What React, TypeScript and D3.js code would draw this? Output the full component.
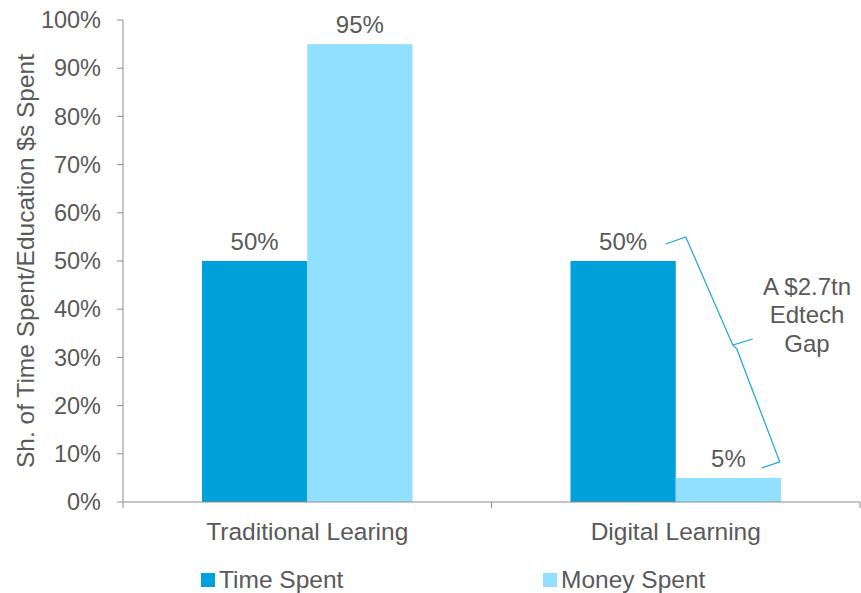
import React from 'react';
import * as d3 from 'd3';

const categories = ['Traditional Learing', 'Digital Learning'];
const seriesNames = ['Time Spent', 'Money Spent'];
const timeSpent = [0.5, 0.5];
const moneySpent = [0.95, 0.05];
const yTicks = [0, 0.1, 0.2, 0.3, 0.4, 0.5, 0.6, 0.7, 0.8, 0.9, 1.0];
const gapNote = ['A $2.7tn', 'Edtech', 'Gap'];

const colors = ['#00A0DA', '#91E0FF'];
const textColor = '#595959';
const axisColor = '#8C8C8C';
const font = '"Liberation Sans", Arial, sans-serif';

const App = () => {
  const width = 861;
  const height = 593;
  const margin = { top: 20, right: 1, bottom: 91, left: 123 };

  const x0 = d3
    .scaleBand<string>()
    .domain(categories)
    .range([margin.left, width - margin.right])
    .padding(0);

  const x1 = d3
    .scaleBand<string>()
    .domain(seriesNames)
    .range([0, x0.bandwidth()])
    .paddingInner(0)
    .paddingOuter(0.75);

  const y = d3
    .scaleLinear()
    .domain([0, 1])
    .range([height - margin.bottom, margin.top]);

  const fmt = d3.format('.0%');
  const values = [timeSpent, moneySpent];

  // brace from the digital "50%" label down to the "5%" label
  const dx = x0('Digital Learning')!;
  const bx = dx + x1('Money Spent')!;
  const top = y(timeSpent[1]) - 19;
  const bottom = y(moneySpent[1]) - 16;
  const mid = (top + bottom) / 2 - 7;
  const bracePath = [
    `M${bx - 10},${top + 2}`,
    `L${bx + 10},${top - 5}`,
    `L${bx + 57},${mid}`,
    `L${bx + 77},${mid - 6}`,
    `M${bx + 57},${mid}`,
    `L${bx + 61},${mid + 4}`,
    `L${bx + 104},${bottom}`,
    `L${bx + 86},${bottom + 6}`,
  ].join(' ');

  return (
    <svg width={width} height={height} style={{ position: 'absolute', left: 0, top: 0 }}>
      <rect width={width} height={height} fill="#fff" />
      {/* y axis */}
      <line x1={margin.left} x2={margin.left} y1={y(0)} y2={y(1)} stroke={axisColor} />
      {yTicks.map((t) => (
        <g key={t}>
          <line x1={margin.left - 6} x2={margin.left} y1={y(t)} y2={y(t)} stroke={axisColor} />
          <text
            x={margin.left - 22}
            y={y(t)}
            dy="0.35em"
            textAnchor="end"
            fontSize={23.5}
            fontFamily={font}
            fill={textColor}
          >
            {fmt(t)}
          </text>
        </g>
      ))}
      <text
        transform={`translate(34, ${261}) rotate(-90)`}
        textAnchor="middle"
        fontSize={24.5}
        fontFamily={font}
        fill={textColor}
      >
        Sh. of Time Spent/Education $s Spent
      </text>

      {/* bars */}
      {categories.map((c, ci) => (
        <g key={c} transform={`translate(${x0(c)},0)`}>
          {seriesNames.map((s, si) => {
            const v = values[si][ci];
            return (
              <g key={s}>
                <rect
                  x={x1(s)}
                  y={y(v)}
                  width={x1.bandwidth()}
                  height={y(0) - y(v)}
                  fill={colors[si]}
                />
                <text
                  x={x1(s)! + x1.bandwidth() / 2}
                  y={y(v) - 11}
                  textAnchor="middle"
                  fontSize={24}
                  fontFamily={font}
                  fill={textColor}
                >
                  {fmt(v)}
                </text>
              </g>
            );
          })}
        </g>
      ))}

      {/* x axis */}
      <line x1={margin.left} x2={width - margin.right} y1={y(0)} y2={y(0)} stroke={axisColor} />
      {[...categories.map((c) => x0(c)!), x0.range()[1]].map((xv, i) => (
        <line key={i} x1={xv} x2={xv} y1={y(0)} y2={y(0) + 6} stroke={axisColor} />
      ))}
      {categories.map((c) => (
        <text
          key={c}
          x={x0(c)! + x0.bandwidth() / 2}
          y={y(0) + 38}
          textAnchor="middle"
          fontSize={24.5}
          fontFamily={font}
          fill={textColor}
        >
          {c}
        </text>
      ))}

      {/* brace + note */}
      <path d={bracePath} fill="none" stroke="#1AA6DF" strokeWidth={1.2} />
      {gapNote.map((t, i) => (
        <text
          key={t}
          x={807}
          y={295 + i * 28.3}
          textAnchor="middle"
          fontSize={24}
          fontFamily={font}
          fill={textColor}
        >
          {t}
        </text>
      ))}

      {/* legend */}
      {seriesNames.map((s, i) => {
        const lx = [201, 543][i];
        return (
          <g key={s}>
            <rect x={lx} y={573} width={14} height={14} fill={colors[i]} />
            <text x={lx + 18} y={588} fontSize={24.5} fontFamily={font} fill={textColor}>
              {s}
            </text>
          </g>
        );
      })}
    </svg>
  );
};

export default App;
